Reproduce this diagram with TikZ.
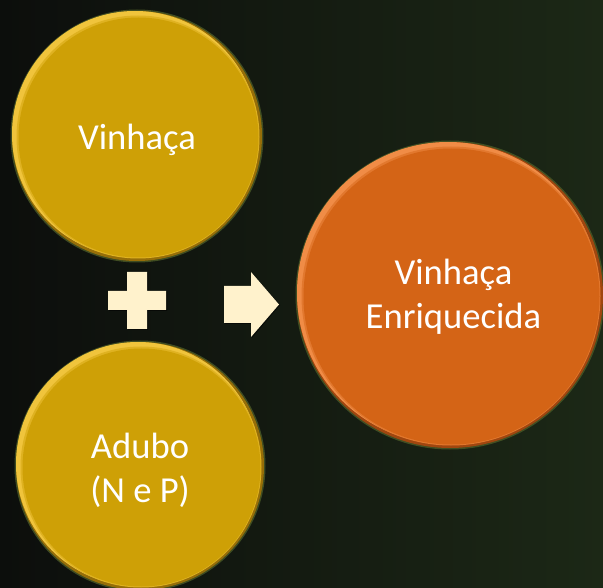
\documentclass[tikz,border=0pt]{standalone}
\usepackage{fontspec}
\setmainfont{Carlito}
\definecolor{bgL}{RGB}{12,14,12}
\definecolor{bgR}{RGB}{28,40,22}
\definecolor{gold}{RGB}{206,160,6}
\definecolor{goldL}{RGB}{240,196,60}
\definecolor{goldD}{RGB}{150,110,8}
\definecolor{orng}{RGB}{212,100,22}
\definecolor{orngL}{RGB}{240,140,70}
\definecolor{orngD}{RGB}{160,70,15}
\definecolor{cream}{RGB}{255,242,204}
\definecolor{rim}{RGB}{75,90,38}
\newcommand\bvcirc[5]{%
  \fill[rim,opacity=0.8] (#1) circle[radius={(#2+1.5)*1pt}];
  \fill[#5] (#1) circle[radius={(#2)*1pt}];
  \fill[#4] ([shift={(-2,-2)}]#1) circle[radius={(#2-2)*1pt}];
  \fill[#3!50!#4] ([shift={(1,1)}]#1) circle[radius={(#2-3.5)*1pt}];
}
\tikzset{
  disc/.style={circle, inner sep=0pt, text=white, align=center,
    font=\fontsize{36.6}{44}\selectfont},
  sign/.style={fill=cream},
  signshadow/.style={fill=black, opacity=0.55}
}
\begin{document}
\begin{tikzpicture}[x=1pt,y=-1pt]
\useasboundingbox (0,0) rectangle (603,588);
\shade[left color=bgL, right color=bgR] (0,0) rectangle (603,588);
% top gold
\coordinate (ca) at (137,136);
\bvcirc{ca}{125}{gold}{goldL}{goldD}
\node[disc, fill=gold, minimum size=2*(125-5)*1pt] (a) at ([shift={(1.5,1.5)}]ca) {};
\node[disc] (ta) at ([yshift=-4pt]ca) {Vinha\c{c}a};
% bottom gold
\coordinate (cb) at (140,466);
\bvcirc{cb}{124}{gold}{goldL}{goldD}
\node[disc, fill=gold, minimum size=2*(124-5)*1pt] (b) at ([shift={(1.5,1.5)}]cb) {};
\node[disc] (tb) at ([yshift=-4pt]cb) {Adubo\\(N e P)};
% orange
\coordinate (cc) at (450,295);
\bvcirc{cc}{153}{orng}{orngL}{orngD}
\node[disc, fill=orng, minimum size=2*(153-5)*1pt] (c) at ([shift={(1.5,1.5)}]cc) {};
\node[disc] (tc) at ([shift={(3.5,2)}]cc) {Vinha\c{c}a\\Enriquecida};
% plus
\fill[signshadow] (128,273) -- (148,273) -- (148,292) -- (167,292) -- (167,311) -- (148,311) -- (148,330) -- (128,330) -- (128,311) -- (109,311) -- (109,292) -- (128,292) -- cycle;
\fill[sign] (127,272) -- (147,272) -- (147,291) -- (166,291) -- (166,310) -- (147,310) -- (147,329) -- (127,329) -- (127,310) -- (108,310) -- (108,291) -- (127,291) -- cycle;
% arrow
\fill[signshadow] (225,287) -- (252,287) -- (252,273) -- (280,305) -- (252,338) -- (252,324) -- (225,324) -- cycle;
\fill[sign] (224,286) -- (251,286) -- (251,272) -- (279,304.5) -- (251,337) -- (251,323) -- (224,323) -- cycle;
\end{tikzpicture}
\end{document}
